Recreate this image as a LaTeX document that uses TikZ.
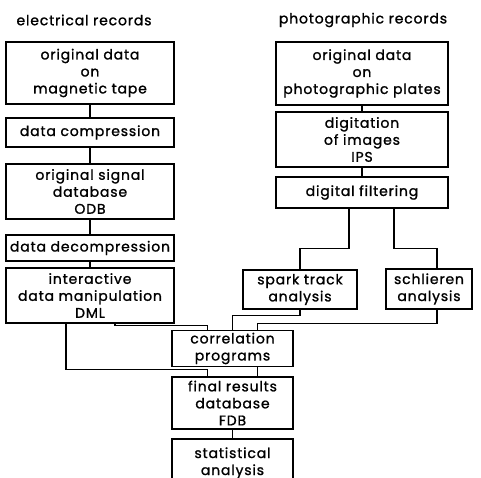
\documentclass[tikz,border=0pt]{standalone}
\usepackage{fontspec}
\setmainfont{Poppins}[LetterSpace=6,FakeBold=1.2]
\usetikzlibrary{positioning,calc}
\tikzset{
  % rutor
  blk/.style={draw=black,line width=1.2pt,inner sep=2pt,align=center,
              font=\fontsize{14}{17}\selectfont},
  lbox/.style={blk,minimum width=168pt},
  rbox/.style={blk,minimum width=172pt},
  mbox/.style={blk,minimum width=121pt},
  hd/.style={font=\fontsize{14}{17}\selectfont,inner sep=0pt},
  % linjer
  ln/.style={draw=black,line width=1.2pt},
}
\begin{document}
\begin{tikzpicture}[x=1pt,y=-1pt]
  \fill[white] (0,0) rectangle (481,478);
  \useasboundingbox (0,0) rectangle (481,478);
  \node[hd] (elec) at (84,20) {electrical records};
  \node[hd] (phot) at (363,20) {photographic records};
  \node[lbox,minimum height=62pt] (tape) at (90,73) {original data\\on\\magnetic tape};
  \node[lbox,minimum height=29pt] (comp) at (90,132.5) {data compression};
  \node[lbox,minimum height=55pt] (odb) at (90,191.5) {original signal\\database\\ODB};
  \node[lbox,minimum height=26pt] (decomp) at (90,248) {data decompression};
  \node[lbox,minimum height=55pt] (dml) at (90,295.5) {interactive\\data manipulation\\DML};
  \node[rbox,minimum height=63pt] (plates) at (362,73.5) {original data\\on\\photographic plates};
  \node[rbox,minimum height=55pt] (ips) at (362,139.5) {digitation\\of images\\IPS};
  \node[rbox,minimum height=31pt] (filt) at (362,192.5) {digital filtering};
  \node[blk,minimum width=114pt,minimum height=39pt] (spark) at (300,289.5) {spark track\\analysis};
  \node[blk,minimum width=86pt,minimum height=40pt] (schl) at (429,289) {schlieren\\analysis};
  \node[mbox,minimum height=35pt] (corr) at (232.5,348.5) {correlation\\programs};
  \node[mbox,minimum height=52pt] (fdb) at (232.5,403) {final results\\database\\FDB};
  \node[mbox,minimum height=48pt] (stat) at (232.5,463) {statistical\\analysis};
  \foreach \a/\b in {tape/comp,comp/odb,odb/decomp,decomp/dml,plates/ips,ips/filt,fdb/stat}
    \draw[ln] (\a) -- (\b);
  \draw[ln] ([xshift=-13pt]filt.south) -- ++(0,40) -| (spark.north);
  \draw[ln] ([xshift=32pt]filt.south) -- ++(0,40) -| ([xshift=8pt]schl.north);
  \draw[ln] (spark.south) -- ++(0,6) -| (corr.north);
  \draw[ln] ([xshift=8pt]schl.south) -- ++(0,14) -| ([xshift=25pt]corr.north);
  \draw[ln] ([xshift=25pt]dml.south) -- ++(0,2) -| ([xshift=-25pt]corr.north);
  \draw[ln] ([xshift=-24pt]dml.south) -- ++(0,46) -| ([xshift=-25pt]fdb.north);
  \draw[ln] ([xshift=25pt]corr.south) -- ([xshift=25pt]fdb.north);
\end{tikzpicture}
\end{document}
